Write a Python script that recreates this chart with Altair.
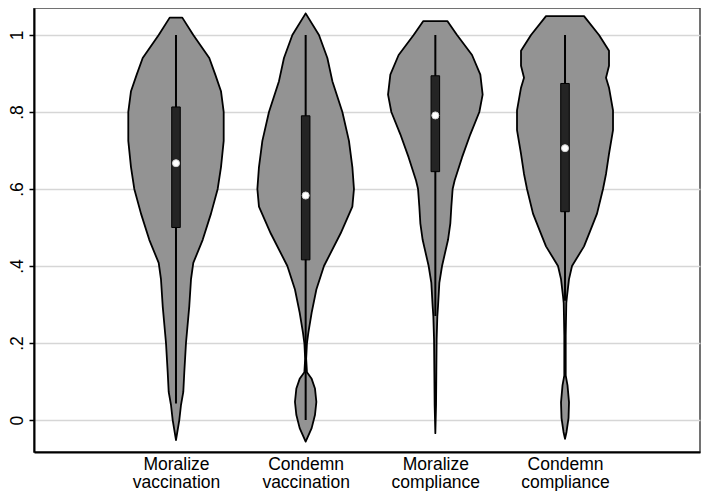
import json
import altair as alt
import pandas as pd

# Categories (x positions 1..4)
categories = ["Moralize vaccination", "Condemn vaccination", "Moralize compliance", "Condemn compliance"]
label_line1 = ["Moralize", "Condemn", "Moralize", "Condemn"]
label_line2 = ["vaccination", "vaccination", "compliance", "compliance"]

# Kernel density outlines: value grid and density (half-width) per violin
v1_y = [1.045, 1.000, 0.940, 0.897, 0.854, 0.800, 0.725, 0.657, 0.600, 0.536, 0.468, 0.408, 0.365, 0.296, 0.200, 0.124, 0.073, 0.039, 0.000, -0.052]
v1_d = [6.3, 17.3, 33.3, 39.3, 45.0, 47.7, 47.7, 45.0, 41.7, 35.0, 26.7, 17.3, 15.0, 13.3, 10.0, 8.3, 7.3, 5.0, 3.3, 0.0]

v2_y = [1.056, 1.000, 0.940, 0.880, 0.800, 0.725, 0.657, 0.600, 0.554, 0.485, 0.400, 0.339, 0.279, 0.227, 0.200, 0.159, 0.124, 0.107, 0.082, 0.047, 0.013, -0.021, -0.056]
v2_d = [0.0, 13.3, 21.7, 26.7, 36.7, 43.3, 46.7, 48.3, 46.7, 35.0, 18.3, 10.7, 6.0, 2.7, 1.3, 0.5, 1.3, 6.0, 9.3, 10.7, 9.3, 6.0, 0.0]

v3_y = [1.036, 1.000, 0.948, 0.897, 0.845, 0.800, 0.742, 0.682, 0.622, 0.600, 0.554, 0.511, 0.468, 0.400, 0.356, 0.296, 0.270, 0.210, 0.124, 0.039, -0.034]
v3_d = [12.0, 21.7, 36.7, 45.0, 47.3, 44.0, 35.0, 26.7, 19.3, 17.3, 16.0, 15.0, 12.7, 6.7, 4.0, 2.7, 2.0, 1.3, 1.0, 0.7, 0.0]

v4_y = [1.049, 1.000, 0.959, 0.920, 0.889, 0.863, 0.804, 0.753, 0.691, 0.639, 0.600, 0.536, 0.490, 0.451, 0.400, 0.366, 0.322, 0.304, 0.219, 0.116, 0.090, 0.046, 0.005, -0.031, -0.049]
v4_d = [19.0, 34.0, 44.0, 44.0, 41.0, 44.0, 48.0, 48.0, 44.0, 41.0, 38.0, 32.0, 25.0, 19.0, 7.0, 4.0, 2.0, 1.3, 0.7, 0.7, 2.5, 4.0, 3.5, 1.5, 0.0]

# Box plot summaries
q1 = [0.500, 0.416, 0.645, 0.541]
q3 = [0.813, 0.790, 0.894, 0.874]
median = [0.667, 0.583, 0.791, 0.706]
whisk_lo = [0.043, 0.000, 0.270, 0.310]
whisk_hi = [1.0, 1.0, 1.0, 1.0]

DENS_SCALE = 1 / 129.67   # density units -> category spacing
BOX_HALF = 0.033

rows = []
for i, (ys, ds) in enumerate([(v1_y, v1_d), (v2_y, v2_d), (v3_y, v3_d), (v4_y, v4_d)]):
    for y, d in zip(ys, ds):
        rows.append({"cat": categories[i], "pos": i + 1, "v": y, "dens": d})
viol = pd.DataFrame(rows)

box = pd.DataFrame({
    "cat": categories, "pos": [1, 2, 3, 4],
    "q1": q1, "q3": q3, "med": median, "lo": whisk_lo, "hi": whisk_hi,
})

PLOT_W = 666
PLOT_H = 444
xdom = [-0.095, 5.041]
ydom = [-0.083, 1.070]
xscale = alt.Scale(domain=xdom, nice=False, zero=False)
yscale = alt.Scale(domain=ydom, nice=False, zero=False)

xlabels = [[a, b] for a, b in zip(label_line1, label_line2)]
x_label_expr = json.dumps(xlabels) + "[round(datum.value) - 1]"
y_label_expr = "datum.value < 0.01 ? '0' : datum.value > 0.99 ? '1' : '.' + round(datum.value * 10)"

FONT = "Liberation Sans"

xaxis = alt.Axis(values=[1, 2, 3, 4], labelExpr=x_label_expr, title=None, ticks=False,
                 grid=False, domainColor="black", domainWidth=2, labelFontSize=17.5,
                 labelLineHeight=18, labelPadding=3, labelColor="black", labelFont=FONT,
                 labelBaseline="top")
yaxis = alt.Axis(values=[0, 0.2, 0.4, 0.6, 0.8, 1.0], labelExpr=y_label_expr, title=None,
                 labelAngle=-90, labelFontSize=17.5, labelFont=FONT, labelColor="black",
                 labelPadding=3, tickSize=5, tickColor="black", tickWidth=1.5,
                 domainColor="black", domainWidth=2, grid=True, gridColor="#d6d6d6",
                 gridWidth=1.5, labelAlign="center", labelBaseline="bottom")

area = alt.Chart(viol).transform_calculate(
    xl=f"datum.pos - datum.dens * {DENS_SCALE}",
    xr=f"datum.pos + datum.dens * {DENS_SCALE}",
).mark_area(orient="horizontal", fill="#939393", stroke="black", strokeWidth=1.8,
            strokeJoin="round").encode(
    y=alt.Y("v:Q", scale=yscale, axis=yaxis),
    x=alt.X("xl:Q", scale=xscale, axis=xaxis),
    x2="xr:Q",
    detail="cat:N",
)

whisk = alt.Chart(box).mark_rule(color="black", strokeWidth=2).encode(
    x=alt.X("pos:Q", scale=xscale),
    y=alt.Y("lo:Q", scale=yscale),
    y2="hi:Q",
)

boxes = alt.Chart(box).transform_calculate(
    bl=f"datum.pos - {BOX_HALF}", br=f"datum.pos + {BOX_HALF}"
).mark_rect(fill="#242424", stroke="black", strokeWidth=1).encode(
    x=alt.X("bl:Q", scale=xscale),
    x2="br:Q",
    y=alt.Y("q1:Q", scale=yscale),
    y2="q3:Q",
)

meds = alt.Chart(box).mark_point(shape="circle", filled=True, color="white", size=50,
                                 opacity=1, stroke="#cfcfcf", strokeWidth=1).encode(
    x=alt.X("pos:Q", scale=xscale),
    y=alt.Y("med:Q", scale=yscale),
)

chart = alt.layer(area, whisk, boxes, meds).properties(
    width=PLOT_W, height=PLOT_H,
    padding={"left": 0, "top": 0, "right": 1, "bottom": 0},
    background="white",
).configure_view(stroke="#444444", strokeWidth=1.5)

chart.save("out.html", embed_options={"renderer": "svg", "actions": False})
